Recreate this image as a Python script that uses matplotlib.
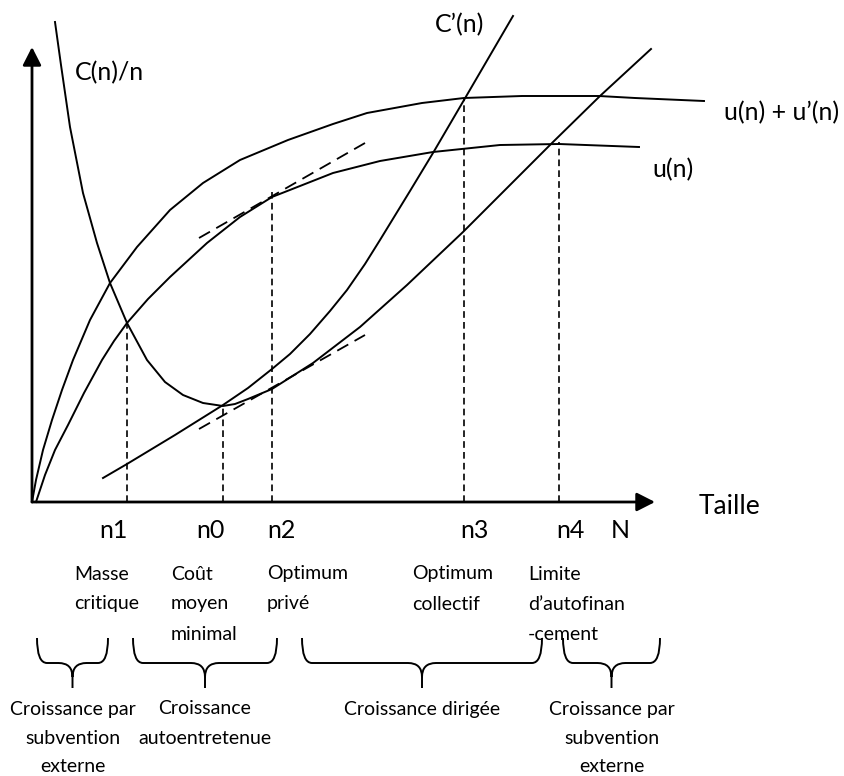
import numpy as np
import matplotlib.pyplot as plt
from matplotlib.path import Path
from matplotlib.patches import PathPatch

plt.rcParams['font.family'] = ['Lato', 'DejaVu Sans']

# curves (x = taille, y = valeur), origin at the axes corner
cout_moyen_x = [23, 29, 38, 51, 65, 78, 95, 115, 133, 151, 171, 191, 203, 216, 240, 281, 328, 375, 431, 468, 520, 568, 619]
cout_moyen_y = [480, 437, 375, 309, 259, 219, 179, 142, 120, 107, 99, 96, 98, 103, 113, 139, 175, 217, 270, 307, 359, 406, 453]

cout_marg_x = [71, 95, 143, 191, 216, 240, 258, 278, 298, 315, 333, 348, 378, 401, 432, 481]
cout_marg_y = [24, 38, 67, 97, 114, 133, 148, 168, 191, 212, 238, 262, 311, 349, 402, 486]

u_x = [4, 13, 23, 36, 52, 70, 82, 95, 116, 138, 175, 208, 240, 268, 301, 348, 401, 468, 527, 607]
u_y = [0, 27, 52, 77, 109, 142, 161, 179, 203, 225, 259, 285, 305, 316, 329, 341, 350, 357, 358, 355]

uu_x = [0, 4, 11, 20, 30, 41, 58, 78, 105, 138, 171, 208, 256, 301, 335, 390, 432, 490, 567, 603, 672]
uu_y = [0, 22, 52, 82, 112, 142, 182, 219, 255, 292, 319, 342, 362, 378, 389, 399, 404, 406, 406, 404, 401]

# points remarquables
guide_x = [95, 191, 240, 432, 527]
guide_top = [179, 96, 314, 403, 360]
tick_x = [81, 178, 249, 442, 538, 588]
tick_labels = ['n1', 'n0', 'n2', 'n3', 'n4', 'N']

# tangentes en n2
tangent_up = ([167, 333], [264, 359])
tangent_low = ([167, 333], [73, 167])

# annotations sous l'axe
top_x = [42, 139, 235, 380, 496]
top_labels = [['Masse', 'critique'],
              ['Co\u00fbt', 'moyen', 'minimal'],
              ['Optimum', 'priv\u00e9'],
              ['Optimum', 'collectif'],
              ['Limite', 'd\u2019autofinan', '-cement']]

brace_x0 = [5, 101, 270, 531]
brace_x1 = [76, 245, 510, 628]
zone_labels = [['Croissance par', 'subvention', 'externe'],
               ['Croissance', 'autoentretenue'],
               ['Croissance dirig\u00e9e'],
               ['Croissance par', 'subvention', 'externe']]


def brace(ax, x0, x1, top=-136, flat=-161, tip=-186):
    xc = (x0 + x1) / 2
    verts = [(x0, top), (x0, flat), (x0 + 10, flat), (xc - 14, flat),
             (xc, flat), (xc, flat - 14), (xc, tip),
             (x1, top), (x1, flat), (x1 - 10, flat), (xc + 14, flat),
             (xc, flat), (xc, flat - 14)]
    codes = [Path.MOVETO, Path.CURVE3, Path.CURVE3, Path.LINETO,
             Path.CURVE3, Path.CURVE3, Path.LINETO,
             Path.MOVETO, Path.CURVE3, Path.CURVE3, Path.LINETO,
             Path.CURVE3, Path.CURVE3]
    ax.add_patch(PathPatch(Path(verts, codes), fill=False, lw=1.4, color='black'))
    return xc


fig = plt.figure(figsize=(8.44, 7.76), dpi=100)
ax = fig.add_axes([0, 0, 1, 1])
ax.set_xlim(-32, 812)
ax.set_ylim(-274, 502)
ax.axis('off')

# axes avec fleches
arrow = dict(arrowstyle='-|>,head_length=0.55,head_width=0.28', lw=2, color='black',
             mutation_scale=20, shrinkA=0, shrinkB=0)
ax.annotate('', xy=(0, 455), xytext=(0, 0), arrowprops=arrow)
ax.annotate('', xy=(623, 0), xytext=(0, 0), arrowprops=arrow)

ax.plot(cout_moyen_x, cout_moyen_y, color='black', lw=1.4)
ax.plot(cout_marg_x, cout_marg_y, color='black', lw=1.4)
ax.plot(u_x, u_y, color='black', lw=1.4)
ax.plot(uu_x, uu_y, color='black', lw=1.4)

for x, top in zip(guide_x, guide_top):
    ax.plot([x, x], [0, top], color='black', lw=1.2, dashes=(4, 2.5))

for xs, ys in (tangent_up, tangent_low):
    ax.plot(xs, ys, color='black', lw=1.3, dashes=(7, 4))

for x, lab in zip(tick_x, tick_labels):
    ax.text(x, -28, lab, ha='center', va='center', fontsize=18)

ax.text(43, 429, 'C(n)/n', ha='left', va='center', fontsize=18)
ax.text(403, 477, 'C\u2019(n)', ha='left', va='center', fontsize=18)
ax.text(692, 389, 'u(n) + u\u2019(n)', ha='left', va='center', fontsize=18)
ax.text(620, 332, 'u(n)', ha='left', va='center', fontsize=18)
ax.text(667, -5, 'Taille', ha='left', va='center', fontsize=19)

for x, lines in zip(top_x, top_labels):
    for i, line in enumerate(lines):
        ax.text(x, -72 - 30 * i, line, ha='left', va='center', fontsize=14)

for x0, x1, lines in zip(brace_x0, brace_x1, zone_labels):
    xc = brace(ax, x0, x1)
    for i, line in enumerate(lines):
        ax.text(xc, -207 - 29 * i, line, ha='center', va='center', fontsize=14)

fig.savefig('out.png', dpi=100)
